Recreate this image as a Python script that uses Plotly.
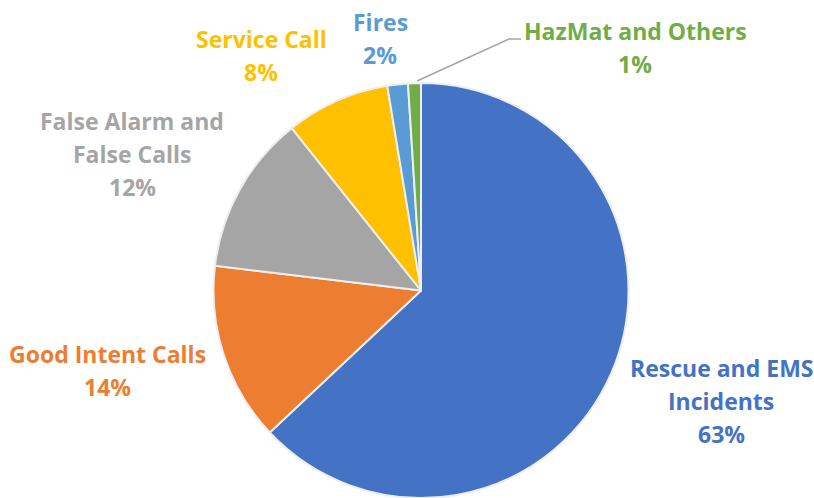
import plotly.graph_objects as go

labels = ["Rescue and EMS Incidents", "Good Intent Calls", "False Alarm and False Calls",
          "Service Call", "Fires", "HazMat and Others"]
values = [63.0, 13.9, 12.4, 8.1, 1.6, 1.0]
colors = ["#4472C4", "#ED7D31", "#A5A5A5", "#FFC000", "#5B9BD5", "#70AD47"]
# label lines as shown in the chart
label_lines = [["Rescue and EMS", "Incidents"], ["Good Intent Calls"],
               ["False Alarm and", "False Calls"], ["Service Call"], ["Fires"],
               ["HazMat and Others"]]

W, H = 814, 498
# label block centers (px) and pie geometry
label_pos = [(721, 368), (107, 354), (132, 121), (261, 39), (380, 22), (635, 31)]
line_h = 33
cx, top, r = 421, 83, 208

fig = go.Figure(go.Pie(
    labels=labels, values=values, sort=False, direction="clockwise", rotation=0,
    marker=dict(colors=colors, line=dict(color="#EEEEEE", width=2)),
    textinfo="none", hoverinfo="label+percent", showlegend=False,
    domain=dict(x=[(cx - r) / W, (cx + r) / W], y=[0, 1 - top / H]),
))

total = sum(values)
annotations = []
for lines, v, col, (px, py) in zip(label_lines, values, colors, label_pos):
    all_lines = lines + [f"{round(v / total * 100)}%"]
    for i, t in enumerate(all_lines):
        annotations.append(dict(
            x=px / W, y=1 - (py + i * line_h) / H, xref="paper", yref="paper",
            text=t, showarrow=False, xanchor="center", yanchor="middle",
            font=dict(family="Open Sans", size=23, color=col, weight="bold"),
        ))

shapes = [dict(type="path", xref="paper", yref="paper",
               path=f"M {417/W},{1-81/H} L {509/W},{1-39/H} L {521/W},{1-39/H}",
               line=dict(color="#A5A5A5", width=1.5))]

fig.update_layout(
    width=W, height=H, margin=dict(l=0, r=0, t=0, b=0),
    paper_bgcolor="white", plot_bgcolor="white",
    annotations=annotations, shapes=shapes,
)
fig.write_html("out.html")
